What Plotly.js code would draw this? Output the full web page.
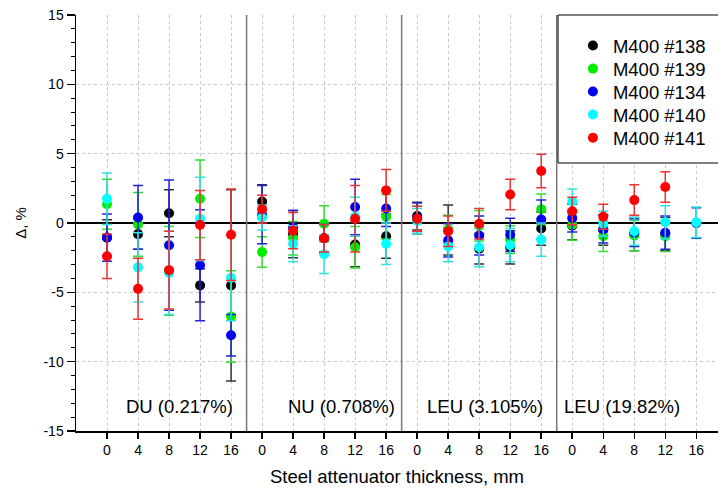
<!DOCTYPE html>
<html>
<head>
<meta charset="utf-8">
<script src="https://cdn.plot.ly/plotly-3.0.1.min.js"></script>
<style>html,body{margin:0;padding:0;background:#fff;}#chart{width:718px;height:489px;}</style>
</head>
<body>
<div id="chart"></div>
<script>
// Positions 0..19: four sample groups x five steel thicknesses
const thicknessLabels = ["0","4","8","12","16"];
const groupLabels = ["DU (0.217%)", "NU (0.708%)", "LEU (3.105%)", "LEU (19.82%)"];
const seriesNames = ["M400 #138", "M400 #139", "M400 #134", "M400 #140", "M400 #141"];
const seriesColors = ["#000000", "#00ee00", "#0000ee", "#00ffff", "#ff0000"];
const errColors = ["#333333", "#33dd33", "#2222dd", "#33e0e0", "#ee3333"];
const yTickVals = [-15, -10, -5, 0, 5, 10, 15];
const yTickText = ["-15", "-10", "-5", "0", "5", "10", "15"];

const vals138 = [-1.06, -0.8, 0.7, -4.5, -4.5,   1.55, -0.8, -1.1, -1.55, -0.95,  0.5, -0.5, -1.85, -1.75, -0.4,   -0.2, -0.5, -0.8, -0.8, null];
const errs138 = [1.3, 1.1, 1.7, 1.2, 6.9,        1.2, 1.7, 1.1, 1.6, 1.6,         1.0, 1.8, 1.1, 1.2, 1.2,        1.0, 1.1, 1.2, 1.2, null];
const vals139 = [1.35, -0.1, -3.45, 1.75, -6.75, -2.1, -1.1, -0.05, -1.75, 0.45,  0.2, -0.45, -0.2, -1.2, 1.0,     -0.15, -0.95, -0.9, -0.95, null];
const errs139 = [1.8, 2.3, 3.2, 2.8, 3.3,        1.1, 1.2, 1.3, 1.5, 1.6,         1.0, 1.0, 1.1, 1.0, 1.1,        1.1, 1.1, 1.1, 1.1, null];
const vals134 = [-1.05, 0.4, -1.6, -3.05, -8.1,  0.6, -0.3, -1.1, 1.15, 1.05,     0.35, -1.25, -0.9, -0.85, 0.25,  0.35, -0.45, -0.7, -0.7, 0.0];
const errs134 = [1.7, 2.3, 4.7, 4.0, 1.5,        2.1, 1.2, 1.0, 2.0, 1.3,         1.1, 1.2, 1.4, 1.2, 1.4,        1.0, 1.0, 1.0, 1.2, 1.1];
const vals140 = [1.75, -3.2, -3.6, 0.3, -3.95,   0.4, -1.5, -2.25, 0.45, -1.5,    0.15, -1.7, -1.75, -1.6, -1.2,   1.55, -0.05, -0.6, 0.05, 0.05];
const errs140 = [1.85, 2.5, 3.0, 3.0, 3.1,       0.9, 1.3, 1.4, 1.4, 1.5,         0.9, 1.1, 1.4, 1.2, 1.2,        0.9, 0.9, 1.0, 1.2, 1.1];
const vals141 = [-2.4, -4.75, -3.4, -0.15, -0.85, 1.0, -0.55, -1.1, 0.3, 2.35,    0.3, -0.6, -0.05, 2.05, 3.75,    0.85, 0.45, 1.65, 2.6, null];
const errs141 = [1.6, 2.2, 2.8, 2.5, 3.3,        1.0, 1.3, 1.0, 2.4, 1.5,         0.9, 1.1, 1.1, 1.1, 1.2,        1.0, 0.9, 1.1, 1.1, null];

const allVals = [vals138, vals139, vals134, vals140, vals141];
const allErrs = [errs138, errs139, errs134, errs140, errs141];

const positions = [];
const tickText = [];
for (let g = 0; g < groupLabels.length; g++) {
  for (let t = 0; t < thicknessLabels.length; t++) {
    positions.push(g * thicknessLabels.length + t);
    tickText.push(thicknessLabels[t]);
  }
}

const FONT = 'Arial, "Liberation Sans", sans-serif';
const legendIds = ['legend', 'legend2', 'legend3', 'legend4', 'legend5'];
const legendRowY = [0.9255, 0.870, 0.815, 0.7596, 0.704];

const traces = seriesNames.map((name, i) => ({
  type: 'scatter',
  mode: 'markers',
  name: name,
  legend: legendIds[i],
  x: positions,
  y: allVals[i],
  marker: {color: seriesColors[i], size: 10},
  error_y: {type: 'data', array: allErrs[i], visible: true, color: errColors[i], thickness: 1.5, width: 5},
  cliponaxis: false
}));

const labelX = [2.35, 7.55, 12.2, 16.6];
const annotations = groupLabels.map((t, i) => ({
  x: labelX[i], y: -13.2, xref: 'x', yref: 'y', text: t, showarrow: false,
  font: {family: FONT, size: 18.5, color: '#000'}
}));

const shapes = [4.5, 9.5, 14.5].map(x => ({
  type: 'line', xref: 'x', yref: 'paper', x0: x, x1: x, y0: 0, y1: 1,
  line: {color: '#777777', width: 1.5}
}));
// legend frame
shapes.push({
  type: 'rect', xref: 'paper', yref: 'paper', x0: 0.7508, x1: 1.2, y0: 0.6442, y1: 1.0,
  line: {color: '#000', width: 1}, fillcolor: '#fff', layer: 'above'
});

const layout = {
  width: 718, height: 489,
  margin: {l: 76, r: 0, t: 15, b: 58},
  paper_bgcolor: '#fff', plot_bgcolor: '#fff',
  font: {family: FONT, color: '#000'},
  showlegend: true,
  xaxis: {
    range: [-1, 19.7],
    tickmode: 'array', tickvals: positions, ticktext: tickText,
    ticks: 'outside', ticklen: 6, tickwidth: 1.5, tickcolor: '#000',
    showline: true, linecolor: '#000', linewidth: 1.5,
    showgrid: true, gridcolor: '#c8c8c8', griddash: 'dot', gridwidth: 1,
    zeroline: false,
    tickfont: {family: FONT, size: 14},
    title: {text: 'Steel attenuator thickness, mm', font: {family: FONT, size: 18.5}, standoff: 13}
  },
  xaxis2: {
    overlaying: 'x', side: 'top', matches: 'x', range: [-1, 19.7],
    tickmode: 'array', tickvals: positions, ticktext: tickText, showticklabels: false,
    ticks: 'inside', ticklen: 5, tickwidth: 1.5, tickcolor: '#000',
    showline: true, linecolor: '#000', linewidth: 1.5, showgrid: false, zeroline: false
  },
  yaxis: {
    range: [-15, 15],
    tickmode: 'array', tickvals: yTickVals, ticktext: yTickText,
    ticks: 'outside', ticklen: 8, tickwidth: 1.5, tickcolor: '#000',
    minor: {tickmode: 'linear', tick0: -15, dtick: 1, ticks: 'outside', ticklen: 4, tickwidth: 1, tickcolor: '#000', showgrid: false},
    showline: true, linecolor: '#000', linewidth: 1.5,
    showgrid: true, gridcolor: '#c8c8c8', griddash: 'dot', gridwidth: 1,
    zeroline: true, zerolinecolor: '#000', zerolinewidth: 2,
    tickfont: {family: FONT, size: 14},
    title: {text: 'Δ, %', font: {family: FONT, size: 15}, standoff: 13}
  },
  annotations: annotations,
  shapes: shapes
};

legendIds.forEach((id, i) => {
  layout[id] = {
    x: 0.774, y: legendRowY[i], xanchor: 'left', yanchor: 'middle',
    bgcolor: 'rgba(0,0,0,0)', borderwidth: 0,
    font: {family: FONT, size: 18.5, color: '#000'}
  };
});

Plotly.newPlot('chart', traces, layout, {staticPlot: true, displayModeBar: false});
</script>
</body>
</html>
